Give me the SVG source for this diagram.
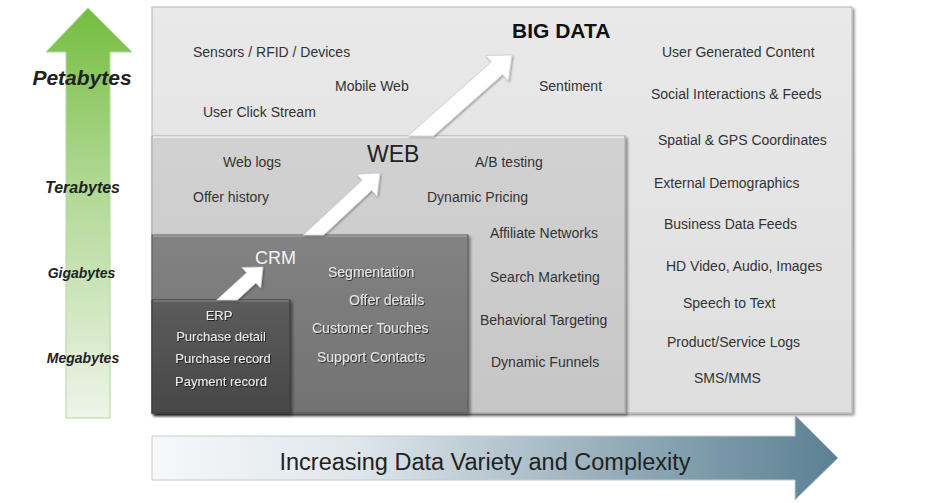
<svg xmlns="http://www.w3.org/2000/svg" width="931" height="503" viewBox="0 0 931 503">
<defs>
<linearGradient id="gGreen" x1="0" y1="0" x2="0" y2="1">
<stop offset="0" stop-color="#74bd3f"/>
<stop offset="0.35" stop-color="#a6d486"/>
<stop offset="1" stop-color="#eef4ea"/>
</linearGradient>
<linearGradient id="gBlue" x1="0" y1="0" x2="1" y2="0">
<stop offset="0" stop-color="#f6f8fa"/>
<stop offset="0.3" stop-color="#dfe6eb"/>
<stop offset="0.7" stop-color="#90a9b6"/>
<stop offset="1" stop-color="#5b8193"/>
</linearGradient>
<linearGradient id="gBig" x1="0" y1="0" x2="0" y2="1">
<stop offset="0" stop-color="#e9e9e9"/>
<stop offset="1" stop-color="#dedede"/>
</linearGradient>
<linearGradient id="gWeb" x1="0" y1="0" x2="0" y2="1">
<stop offset="0" stop-color="#d2d2d2"/>
<stop offset="1" stop-color="#c6c6c6"/>
</linearGradient>
<linearGradient id="gCrm" x1="0" y1="0" x2="0" y2="1">
<stop offset="0" stop-color="#828282"/>
<stop offset="1" stop-color="#727272"/>
</linearGradient>
<linearGradient id="gErp" x1="0" y1="0" x2="0" y2="1">
<stop offset="0" stop-color="#5c5c5c"/>
<stop offset="1" stop-color="#474747"/>
</linearGradient>
<filter id="shadow" x="-5%" y="-5%" width="110%" height="115%">
<feDropShadow dx="2" dy="2" stdDeviation="1.5" flood-color="#000" flood-opacity="0.45"/>
</filter>
<filter id="tshadow" x="-10%" y="-30%" width="120%" height="160%">
<feDropShadow dx="1" dy="1" stdDeviation="0.6" flood-color="#000" flood-opacity="0.6"/>
</filter>
<filter id="ashadow" x="-20%" y="-20%" width="140%" height="140%">
<feDropShadow dx="1" dy="1" stdDeviation="1" flood-color="#000" flood-opacity="0.35"/>
</filter>
<style>
text { font-family: "Liberation Sans", Arial, sans-serif; }
.t { font-size: 14px; fill: #333; }
.w { font-size: 14px; fill: #e6e6e6; filter: url(#tshadow); }
.e { font-size: 13px; fill: #ececec; filter: url(#tshadow); text-anchor: middle; }
.scale { font-weight: bold; font-style: italic; fill: #222; text-anchor: middle; }
.arrow { fill: #ffffff; stroke: #cfcfcf; stroke-width: 0.8; filter: url(#ashadow); }
</style>
</defs>
<rect width="931" height="503" fill="#ffffff"/>

<g id="volume-arrow">
<polygon points="88,8 132,52 110,52 110,418 66,418 66,52 46,52" fill="url(#gGreen)" stroke="#b3d99a" stroke-width="1"/>
<text class="scale" x="82" y="85" font-size="21">Petabytes</text>
<text class="scale" x="82.5" y="193" font-size="16">Terabytes</text>
<text class="scale" x="81.5" y="278" font-size="14">Gigabytes</text>
<text class="scale" x="83" y="363" font-size="14">Megabytes</text>
</g>

<g id="bigdata">
<rect x="152" y="7" width="700" height="406" fill="url(#gBig)" stroke="#b5b5b5" stroke-width="1" filter="url(#shadow)"/>
<text x="512" y="38" font-size="21" font-weight="bold" fill="#111">BIG DATA</text>
<text class="t" x="193" y="57">Sensors / RFID / Devices</text>
<text class="t" x="335" y="91">Mobile Web</text>
<text class="t" x="539" y="91">Sentiment</text>
<text class="t" x="203" y="117">User Click Stream</text>
<text class="t" x="662" y="57">User Generated Content</text>
<text class="t" x="651" y="99">Social Interactions &amp; Feeds</text>
<text class="t" x="658" y="145">Spatial &amp; GPS Coordinates</text>
<text class="t" x="654" y="188">External Demographics</text>
<text class="t" x="664" y="229">Business Data Feeds</text>
<text class="t" x="666" y="271">HD Video, Audio, Images</text>
<text class="t" x="683" y="308">Speech to Text</text>
<text class="t" x="667" y="347">Product/Service Logs</text>
<text class="t" x="694" y="383">SMS/MMS</text>
</g>

<g id="web">
<rect x="152" y="136" width="473" height="277" fill="url(#gWeb)" stroke="#a9a9a9" stroke-width="1" filter="url(#shadow)"/>
<line x1="153" y1="137" x2="624" y2="137" stroke="#eeeeee" stroke-width="1.5"/>
<text x="367" y="162" font-size="23" fill="#222">WEB</text>
<text class="t" x="223" y="167">Web logs</text>
<text class="t" x="475" y="167">A/B testing</text>
<text class="t" x="193" y="202">Offer history</text>
<text class="t" x="427" y="202">Dynamic Pricing</text>
<text class="t" x="490" y="238">Affiliate Networks</text>
<text class="t" x="490" y="282">Search Marketing</text>
<text class="t" x="480" y="325">Behavioral Targeting</text>
<text class="t" x="491" y="367">Dynamic Funnels</text>
</g>

<g id="crm">
<rect x="152" y="235" width="316" height="178" fill="url(#gCrm)" stroke="#5a5a5a" stroke-width="1" filter="url(#shadow)"/>
<line x1="153" y1="236" x2="467" y2="236" stroke="#a0a0a0" stroke-width="1.5"/>
<text x="255" y="264" font-size="18" fill="#f2f2f2">CRM</text>
<text class="w" x="328" y="277">Segmentation</text>
<text class="w" x="349" y="305">Offer details</text>
<text class="w" x="312" y="333">Customer Touches</text>
<text class="w" x="317" y="362">Support Contacts</text>
</g>

<g id="erp">
<rect x="152" y="300" width="138" height="113" fill="url(#gErp)" stroke="#3a3a3a" stroke-width="1" filter="url(#shadow)"/>
<line x1="153" y1="301" x2="289" y2="301" stroke="#7a7a7a" stroke-width="1.5"/>
<text class="e" x="219" y="320" font-size="15">ERP</text>
<text class="e" x="221" y="341">Purchase detail</text>
<text class="e" x="223" y="363">Purchase record</text>
<text class="e" x="221" y="386">Payment record</text>
</g>

<g id="connectors">
<polygon class="arrow" points="407.9,136 491.4,61.9 485.8,55.6 512,55 508.3,81 502.7,74.6 433.5,136"/>
<polygon class="arrow" points="303.3,235 362.1,180.2 356.6,174.3 380,173 377.1,196.3 371.6,190.4 323.8,235"/>
<polygon class="arrow" points="216.7,300 246.5,272.7 241.8,267.5 263,267 260.7,288.1 255.9,283 237.4,300"/>
</g>

<g id="variety-arrow">
<polygon points="152,436 795,436 795,415 838,458 795,500 795,480 152,480" fill="url(#gBlue)" stroke="#c0ccd3" stroke-width="1"/>
<text x="485" y="470" font-size="23.5" fill="#222" text-anchor="middle">Increasing Data Variety and Complexity</text>
</g>
</svg>
